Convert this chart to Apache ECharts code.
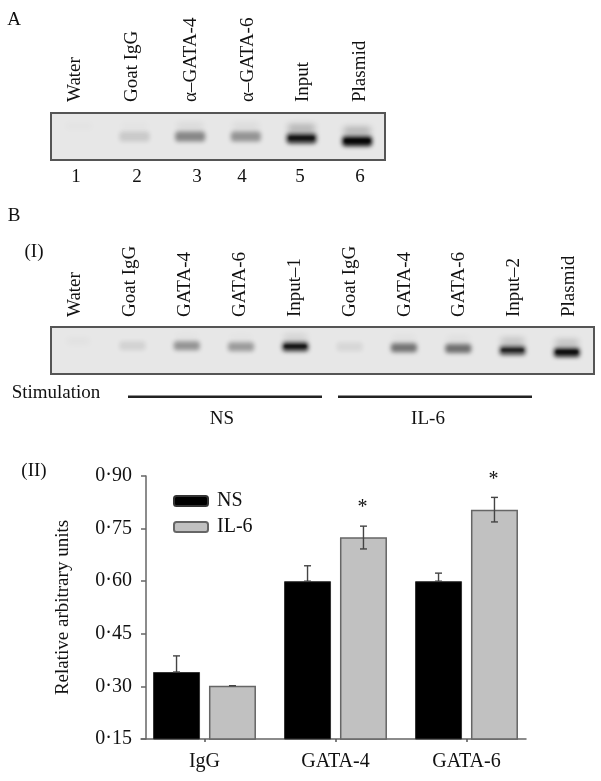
<!DOCTYPE html>
<html><head><meta charset="utf-8">
<style>html,body{margin:0;padding:0;background:#fff}#c{width:601px;height:781px}</style>
<script src="https://cdn.jsdelivr.net/npm/echarts@6/dist/echarts.min.js"></script>
</head><body><div id="c"></div>
<script>
// ---- data ----
const categories = ['IgG', 'GATA-4', 'GATA-6'];
const nsValues = [0.341, 0.60, 0.60];
const il6Values = [0.302, 0.725, 0.804];
const nsErrHigh = [0.387, 0.644, 0.623];
const nsErrLow = [0.341, 0.60, 0.60];
const il6ErrHigh = [0.302, 0.757, 0.839];
const il6ErrLow = [0.302, 0.692, 0.769];
const il6Significant = [false, true, true];
const yTicks = { min: 0.15, max: 0.90, step: 0.15 };

const lanesA = ['Water', 'Goat IgG', 'α–GATA-4', 'α–GATA-6', 'Input', 'Plasmid'];
const laneNumbersA = ['1', '2', '3', '4', '5', '6'];
const bandStrengthA = [0.0, 0.13, 0.42, 0.36, 0.8, 0.92];
const bandPositionA = [0.5, 0.5, 0.5, 0.5, 0.54, 0.6];
const haloStrengthA = [0.02, 0.02, 0.06, 0.05, 0.25, 0.25];

const lanesB = ['Water', 'Goat IgG', 'GATA-4', 'GATA-6', 'Input–1', 'Goat IgG', 'GATA-4', 'GATA-6', 'Input–2', 'Plasmid'];
const bandStrengthB = [0.0, 0.09, 0.36, 0.33, 0.8, 0.07, 0.5, 0.52, 0.7, 0.86];
const bandPositionB = [0.5, 0.4, 0.4, 0.42, 0.42, 0.42, 0.44, 0.46, 0.5, 0.54];
const haloStrengthB = [0.03, 0.0, 0.02, 0.02, 0.1, 0.0, 0.03, 0.04, 0.18, 0.2];

// ---- layout ----
const FONT = '"Liberation Serif", "Times New Roman", serif';
const BAR_W = 47, BAR_GAP_PCT = 19;
const labelXA = [75, 132, 191, 248, 303, 360];
const numberXA = [76, 137, 197, 242, 300, 360];
const labelXB = [75, 130, 185, 240, 295, 350, 405, 459, 514, 569];

function txt(text, x, y, extra) {
  return Object.assign({ type: 'text', x, y, silent: true,
    style: { text, fill: '#111', font: '19px ' + FONT, align: 'center', verticalAlign: 'middle' } }, extra || {});
}
function rot(text, x, y) {
  return { type: 'text', x, y, rotation: Math.PI / 2, silent: true,
    style: { text, fill: '#111', font: '19px ' + FONT, align: 'left', verticalAlign: 'middle' } };
}
const OFF = 2000;
function blurred(cx, cy, w, h, blur, alpha) {
  return { type: 'rect', shape: { x: cx - w / 2 - OFF, y: cy - h / 2, width: w, height: h, r: h / 3 },
    style: { fill: '#000', shadowColor: 'rgba(0,0,0,' + alpha + ')', shadowBlur: blur, shadowOffsetX: OFF } };
}
function bandRenderer(w, h) {
  return function (params, api) {
    const p = api.coord([api.value(0), api.value(1)]);
    const s = api.value(2), halo = api.value(3);
    const kids = [];
    if (halo > 0) kids.push(blurred(p[0], p[1] - h * 1.05, w * 0.9, h * 0.7, 6, halo));
    if (s > 0) {
      kids.push(blurred(p[0], p[1], w, h, 4, Math.min(1, s)));
      if (s > 0.6) kids.push(blurred(p[0], p[1] - 0.5, w * 0.85, h * 0.35, 2, s * 0.8));
    }
    return { type: 'group', children: kids };
  };
}
function gelData(strength, position, halo) {
  return strength.map((s, i) => [i, position[i], s, halo[i]]);
}

const graphicEls = [
  txt('A', 14, 20),
  txt('B', 14, 216),
  txt('(I)', 34, 252),
  txt('(II)', 34, 471),
  txt('Stimulation', 56, 393, {}),
  txt('NS', 222, 419),
  txt('IL-6', 428, 419)
];
lanesA.forEach((t, i) => graphicEls.push(rot(t, labelXA[i], 102)));
laneNumbersA.forEach((t, i) => graphicEls.push(txt(t, numberXA[i], 177)));
lanesB.forEach((t, i) => graphicEls.push(rot(t, labelXB[i], 317)));
graphicEls.push(
  { type: 'rect', shape: { x: 128, y: 395.5, width: 194, height: 2.6 }, style: { fill: '#222' } },
  { type: 'rect', shape: { x: 338, y: 395.5, width: 194, height: 2.6 }, style: { fill: '#222' } },
);

const chart = echarts.init(document.getElementById('c'), null, { renderer: 'canvas', width: 601, height: 781 });
const hiddenAxis = { show: false };
const gelGrid = (left, top, width, height) => ({ left, top, width, height, show: true,
  backgroundColor: '#e7e7e7', borderColor: '#555', borderWidth: 2 });
chart.setOption({
  animation: false,
  backgroundColor: '#fff',
  textStyle: { fontFamily: FONT },
  grid: [
    gelGrid(51, 113, 334, 47),
    gelGrid(51, 327, 543, 47),
    { left: 139, width: 393, top: 476, height: 263 },
    { left: 141, width: 385, top: 476, height: 263 }
  ],
  xAxis: [
    { gridIndex: 0, type: 'category', data: lanesA, show: false },
    { gridIndex: 1, type: 'category', data: lanesB, show: false },
    { gridIndex: 2, type: 'category', data: categories, axisLine: { show: false },
      axisTick: { show: true, alignWithLabel: true, length: 3, lineStyle: { color: '#555', width: 1.5 } },
      axisLabel: { color: '#111', fontSize: 20, fontFamily: FONT, margin: 13 } },
    { gridIndex: 3, type: 'value', min: 0, max: 1, axisLine: { show: true, onZero: false, lineStyle: { color: '#666', width: 1.5 } },
      axisTick: { show: false }, axisLabel: { show: false }, splitLine: { show: false } }
  ],
  yAxis: [
    { gridIndex: 0, type: 'value', min: 0, max: 1, inverse: true, show: false },
    { gridIndex: 1, type: 'value', min: 0, max: 1, inverse: true, show: false },
    { gridIndex: 2, type: 'value', min: yTicks.min, max: yTicks.max, interval: yTicks.step, offset: -7,
      name: 'Relative arbitrary units', nameLocation: 'middle', nameGap: 73, nameRotate: 90,
      nameTextStyle: { color: '#111', fontSize: 19, fontFamily: FONT },
      axisLine: { show: true, lineStyle: { color: '#666', width: 1.5 } },
      axisTick: { show: true, length: 5, lineStyle: { color: '#666', width: 1.5 } },
      splitLine: { show: false },
      axisLabel: { color: '#111', fontSize: 20, fontFamily: FONT, margin: 14,
        formatter: v => v.toFixed(2).replace('.', '·') } },
    { gridIndex: 3, type: 'value', min: 0, max: 1, show: false }
  ],
  legend: { left: 168, top: 486, orient: 'vertical', itemWidth: 34, itemHeight: 10, itemGap: 6,
    data: ['NS', 'IL-6'], textStyle: { color: '#111', fontSize: 20, fontFamily: FONT, padding: [0, 0, 0, 4] } },
  series: [
    { type: 'custom', xAxisIndex: 0, yAxisIndex: 0, renderItem: bandRenderer(30, 10), clip: false,
      data: gelData(bandStrengthA, bandPositionA, haloStrengthA), silent: true, z: 1 },
    { type: 'custom', xAxisIndex: 1, yAxisIndex: 1, renderItem: bandRenderer(26, 9), clip: false,
      data: gelData(bandStrengthB, bandPositionB, haloStrengthB), silent: true, z: 1 },
    { name: 'NS', type: 'bar', xAxisIndex: 2, yAxisIndex: 2, data: nsValues, barWidth: BAR_W, barGap: BAR_GAP_PCT + '%',
      itemStyle: { color: '#000', borderColor: '#333', borderWidth: 1 } },
    { name: 'IL-6', type: 'bar', xAxisIndex: 2, yAxisIndex: 2, data: il6Values, barWidth: BAR_W, barGap: BAR_GAP_PCT + '%',
      itemStyle: { color: '#c1c1c1', borderColor: '#666', borderWidth: 1.5 } },
    { type: 'custom', xAxisIndex: 2, yAxisIndex: 2, silent: true, z: 5, clip: false,
      data: categories.flatMap((c, i) => [
        [i, nsErrLow[i], nsErrHigh[i], -1, 0],
        [i, il6ErrLow[i], il6ErrHigh[i], 1, il6Significant[i] ? 1 : 0]
      ]),
      renderItem: (params, api) => {
        const off = api.value(3) * (BAR_W * (1 + BAR_GAP_PCT / 100)) / 2;
        const lo = api.coord([api.value(0), api.value(1)]);
        const hi = api.coord([api.value(0), api.value(2)]);
        const x = lo[0] + off, cap = 3.5;
        const stroke = { stroke: '#444', lineWidth: 1.4, fill: 'none' };
        const kids = [
          { type: 'line', shape: { x1: x, y1: lo[1], x2: x, y2: hi[1] }, style: stroke },
          { type: 'line', shape: { x1: x - cap, y1: hi[1], x2: x + cap, y2: hi[1] }, style: stroke }
        ];
        if (lo[1] !== hi[1] && api.value(1) > 0) kids.push(
          { type: 'line', shape: { x1: x - cap, y1: lo[1], x2: x + cap, y2: lo[1] }, style: stroke });
        if (api.value(4)) kids.push({ type: 'text', x: x - 1, y: hi[1] - 18,
          style: { text: '*', fill: '#111', font: '20px ' + FONT, align: 'center', verticalAlign: 'middle' } });
        return { type: 'group', children: kids };
      } }
  ],
  graphic: { elements: graphicEls }
});
</script></body></html>
